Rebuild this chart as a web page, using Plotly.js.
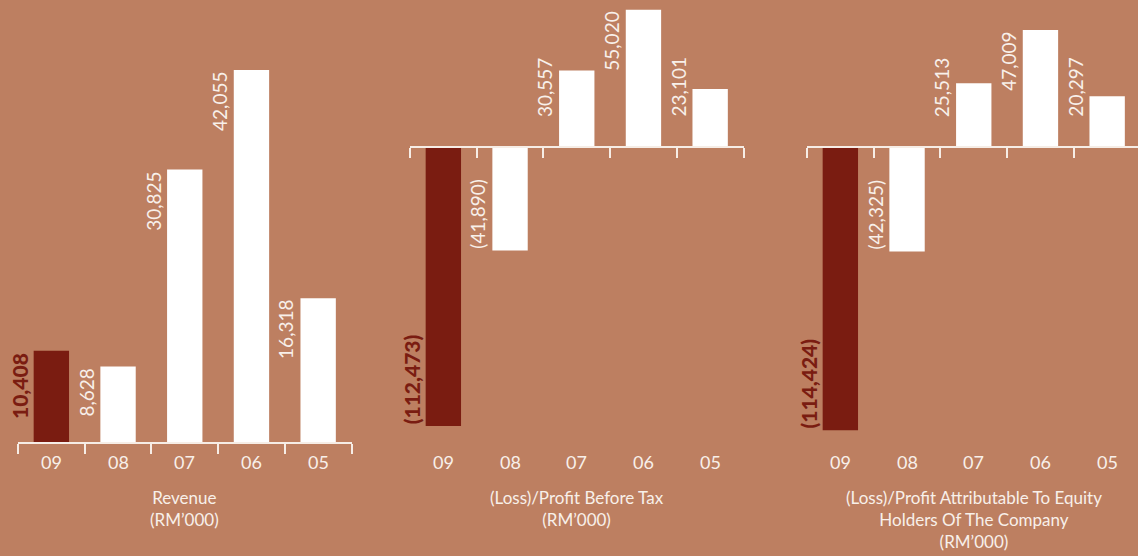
<!DOCTYPE html>
<html>
<head>
<meta charset="utf-8">
<script src="https://cdn.plot.ly/plotly-3.0.1.min.js"></script>
<style>html,body{margin:0;padding:0;background:#BD7F61;}</style>
</head>
<body>
<div id="chart" style="width:1138px;height:556px;"></div>
<script>
const categories = ['09', '08', '07', '06', '05'];
const revenue = [10408, 8628, 30825, 42055, 16318];
const profitBeforeTax = [-112473, -41890, 30557, 55020, 23101];
const profitAttributable = [-114424, -42325, 25513, 47009, 20297];
const panelTitles = [
  'Revenue<br>(RM’000)',
  '(Loss)/Profit Before Tax<br>(RM’000)',
  '(Loss)/Profit Attributable To Equity<br>Holders Of The Company<br>(RM’000)'
];

const BG = '#BD7F61', DARK = '#7A1C11', WHITE = '#FFFFFF', TXT = '#F8F0EA', LINE = '#F6EDE6';
const W = 1138, H = 556;
const FONT = 'Lato, "Open Sans", sans-serif';

function fmt(v) {
  const s = Math.abs(v).toLocaleString('en-US');
  return v < 0 ? '(' + s + ')' : s;
}

// panel geometry (pixels)
const panels = [
  {series: revenue, x0: 18, x1: 351.5, r: [-0.5, 4.5], zero: 443, scale: 8.87, posFloor: null},
  {series: profitBeforeTax, x0: 410, x1: 743.5, r: [-0.5, 4.5], zero: 146.5, scale: 2.485, posFloor: 36500},
  {series: profitAttributable, x0: 807, x1: 1138, r: [-0.5, -0.5 + (1138 - 807) / 66.7], zero: 146.5, scale: 2.48, posFloor: 36500}
];

const traces = [];
const annotations = [];
const layout = {
  width: W, height: H,
  margin: {l: 0, r: 0, t: 0, b: 0},
  paper_bgcolor: BG, plot_bgcolor: BG,
  showlegend: false,
  font: {family: FONT, color: TXT},
  annotations: annotations
};

panels.forEach((p, k) => {
  const n = k === 0 ? '' : String(k + 1);
  const xa = 'x' + n, ya = 'y' + n;
  traces.push({
    type: 'bar',
    x: categories,
    y: p.series,
    xaxis: xa, yaxis: ya,
    width: 0.53,
    marker: {color: p.series.map((v, i) => i === 0 ? DARK : WHITE), line: {width: 0}},
    hoverinfo: 'none'
  });
  const top = p.zero / p.scale * 1000;
  const bottom = -(H - p.zero) / p.scale * 1000;
  layout['xaxis' + n] = {
    type: 'category',
    categoryorder: 'array', categoryarray: categories,
    domain: [p.x0 / W, Math.min(1, p.x1 / W)],
    range: p.r,
    anchor: 'free',
    position: 1 - p.zero / H,
    showline: true, linecolor: LINE, linewidth: 2,
    ticks: 'outside', tickson: 'boundaries', ticklen: 10, tickwidth: 2, tickcolor: LINE,
    showticklabels: false, showgrid: false, zeroline: false, fixedrange: true
  };
  layout['yaxis' + n] = {
    domain: [0, 1], range: [bottom, top], anchor: xa,
    visible: false, showgrid: false, zeroline: false, fixedrange: true
  };
  // value labels
  p.series.forEach((v, i) => {
    const dark = i === 0;
    let y, yanchor;
    if (v < 0) { y = v; yanchor = 'bottom'; }
    else { y = p.posFloor ? Math.max(v, p.posFloor) : v; yanchor = 'top'; }
    annotations.push({
      xref: xa, yref: ya, x: i, y: y,
      text: fmt(v), showarrow: false, textangle: -90,
      xanchor: 'center', yanchor: yanchor, xshift: -32,
      font: {family: FONT, size: dark ? 21 : 19, color: dark ? DARK : TXT, weight: dark ? 900 : 'normal'}
    });
    // category labels
    annotations.push({
      xref: xa, yref: 'paper', x: i, y: 1 - 462 / H,
      text: categories[i], showarrow: false,
      xanchor: 'center', yanchor: 'middle',
      font: {family: FONT, size: 18, color: TXT}
    });
  });
  annotations.push({
    xref: xa, yref: 'paper', x: 2, y: 1 - 485 / H,
    text: panelTitles[k], showarrow: false,
    xanchor: 'center', yanchor: 'top', align: 'center',
    font: {family: FONT, size: 17, color: TXT}
  });
});

Plotly.newPlot('chart', traces, layout, {staticPlot: true, displayModeBar: false});
</script>
</body>
</html>
